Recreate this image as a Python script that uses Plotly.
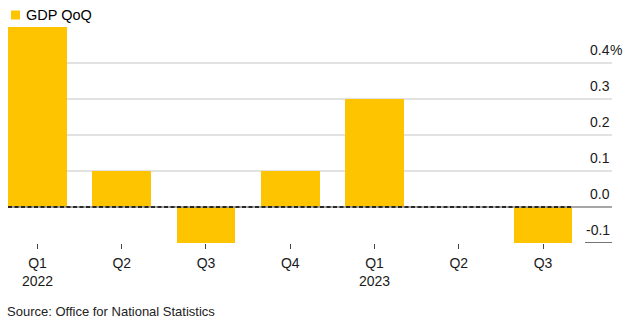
import plotly.graph_objects as go

quarters = ["Q1<br>2022", "Q2", "Q3", "Q4", "Q1<br>2023", "Q2", "Q3"]
gdp_qoq = [0.5, 0.1, -0.1, 0.1, 0.3, 0.0, -0.1]
y_ticks = [0.4, 0.3, 0.2, 0.1, 0.0, -0.1]
y_tick_text = ["0.4", "0.3", "0.2", "0.1", "0.0", "-0.1"]
series_name = "GDP QoQ"
source_text = "Source: Office for National Statistics"

x_pos = list(range(len(quarters)))
BAR = "#ffc400"
FONT = "Liberation Sans, Arial, sans-serif"

L, R, T, B = 8, 23, 27, 84
PW, PH = 635 - L - R, 327 - T - B

def px_x(p):
    return (p - L) / PW

def px_y(p):
    return (327 - B - p) / PH

fig = go.Figure()
fig.add_trace(go.Bar(x=x_pos, y=gdp_qoq, width=0.7, marker=dict(color=BAR, line=dict(width=0)),
                     name=series_name, showlegend=False))

annotations = []
for v, t in zip(y_ticks, y_tick_text):
    annotations.append(dict(x=1, xref="paper", y=v, yref="y", text=t, showarrow=False,
                            xanchor="right", yanchor="bottom", yshift=3,
                            font=dict(family=FONT, size=14, color="#1a1a1a")))
annotations.append(dict(x=1, xref="paper", y=y_ticks[0], yref="y", text="%", showarrow=False,
                        xanchor="left", yanchor="bottom", yshift=3, xshift=-4,
                        font=dict(family=FONT, size=14, color="#1a1a1a")))
annotations.append(dict(x=px_x(24), xref="paper", y=px_y(15), yref="paper", text=series_name,
                        showarrow=False, xanchor="left", yanchor="middle",
                        font=dict(family=FONT, size=14.5, color="#000")))
annotations.append(dict(x=px_x(5), xref="paper", y=px_y(311), yref="paper", text=source_text,
                        showarrow=False, xanchor="left", yanchor="middle",
                        font=dict(family=FONT, size=13, color="#222")))

shapes = [
    dict(type="rect", xref="paper", yref="paper", x0=px_x(11), x1=px_x(20), y0=px_y(19.5), y1=px_y(10.5),
         fillcolor=BAR, line=dict(width=0)),
    dict(type="line", xref="paper", yref="y", x0=0, x1=1, y0=0, y1=0,
         line=dict(color="#8a8a8a", width=1.5), layer="above"),
    dict(type="line", xref="x", yref="y", x0=-0.35, x1=6.35, y0=0, y1=0,
         line=dict(color="#000000", width=1.5, dash="4px,2.5px"), layer="above"),
    dict(type="line", xref="paper", yref="y", x0=px_x(585), x1=1, y0=-0.1, y1=-0.1,
         line=dict(color="#1a1a1a", width=1.2), layer="above"),
]

fig.update_layout(
    width=635, height=327,
    margin=dict(l=L, r=R, t=T, b=B, autoexpand=False),
    paper_bgcolor="white", plot_bgcolor="white",
    font=dict(family=FONT, size=14, color="#1a1a1a"),
    showlegend=False,
    xaxis=dict(range=[-0.35, 6.819], tickmode="array", tickvals=x_pos, ticktext=quarters,
               showgrid=False, zeroline=False, showline=False, ticks="outside", ticklen=5,
               ticklabelstandoff=2,
               tickcolor="#444", tickwidth=1, tickfont=dict(family=FONT, size=14, color="#1a1a1a")),
    yaxis=dict(range=[-0.1, 0.5], tickmode="array", tickvals=[0.1, 0.2, 0.3, 0.4],
               showticklabels=False, showgrid=True, gridcolor="#e2e2e2", gridwidth=1.5,
               zeroline=False, showline=False),
    annotations=annotations,
    shapes=shapes,
    bargap=0,
)

fig.write_html("out.html")
